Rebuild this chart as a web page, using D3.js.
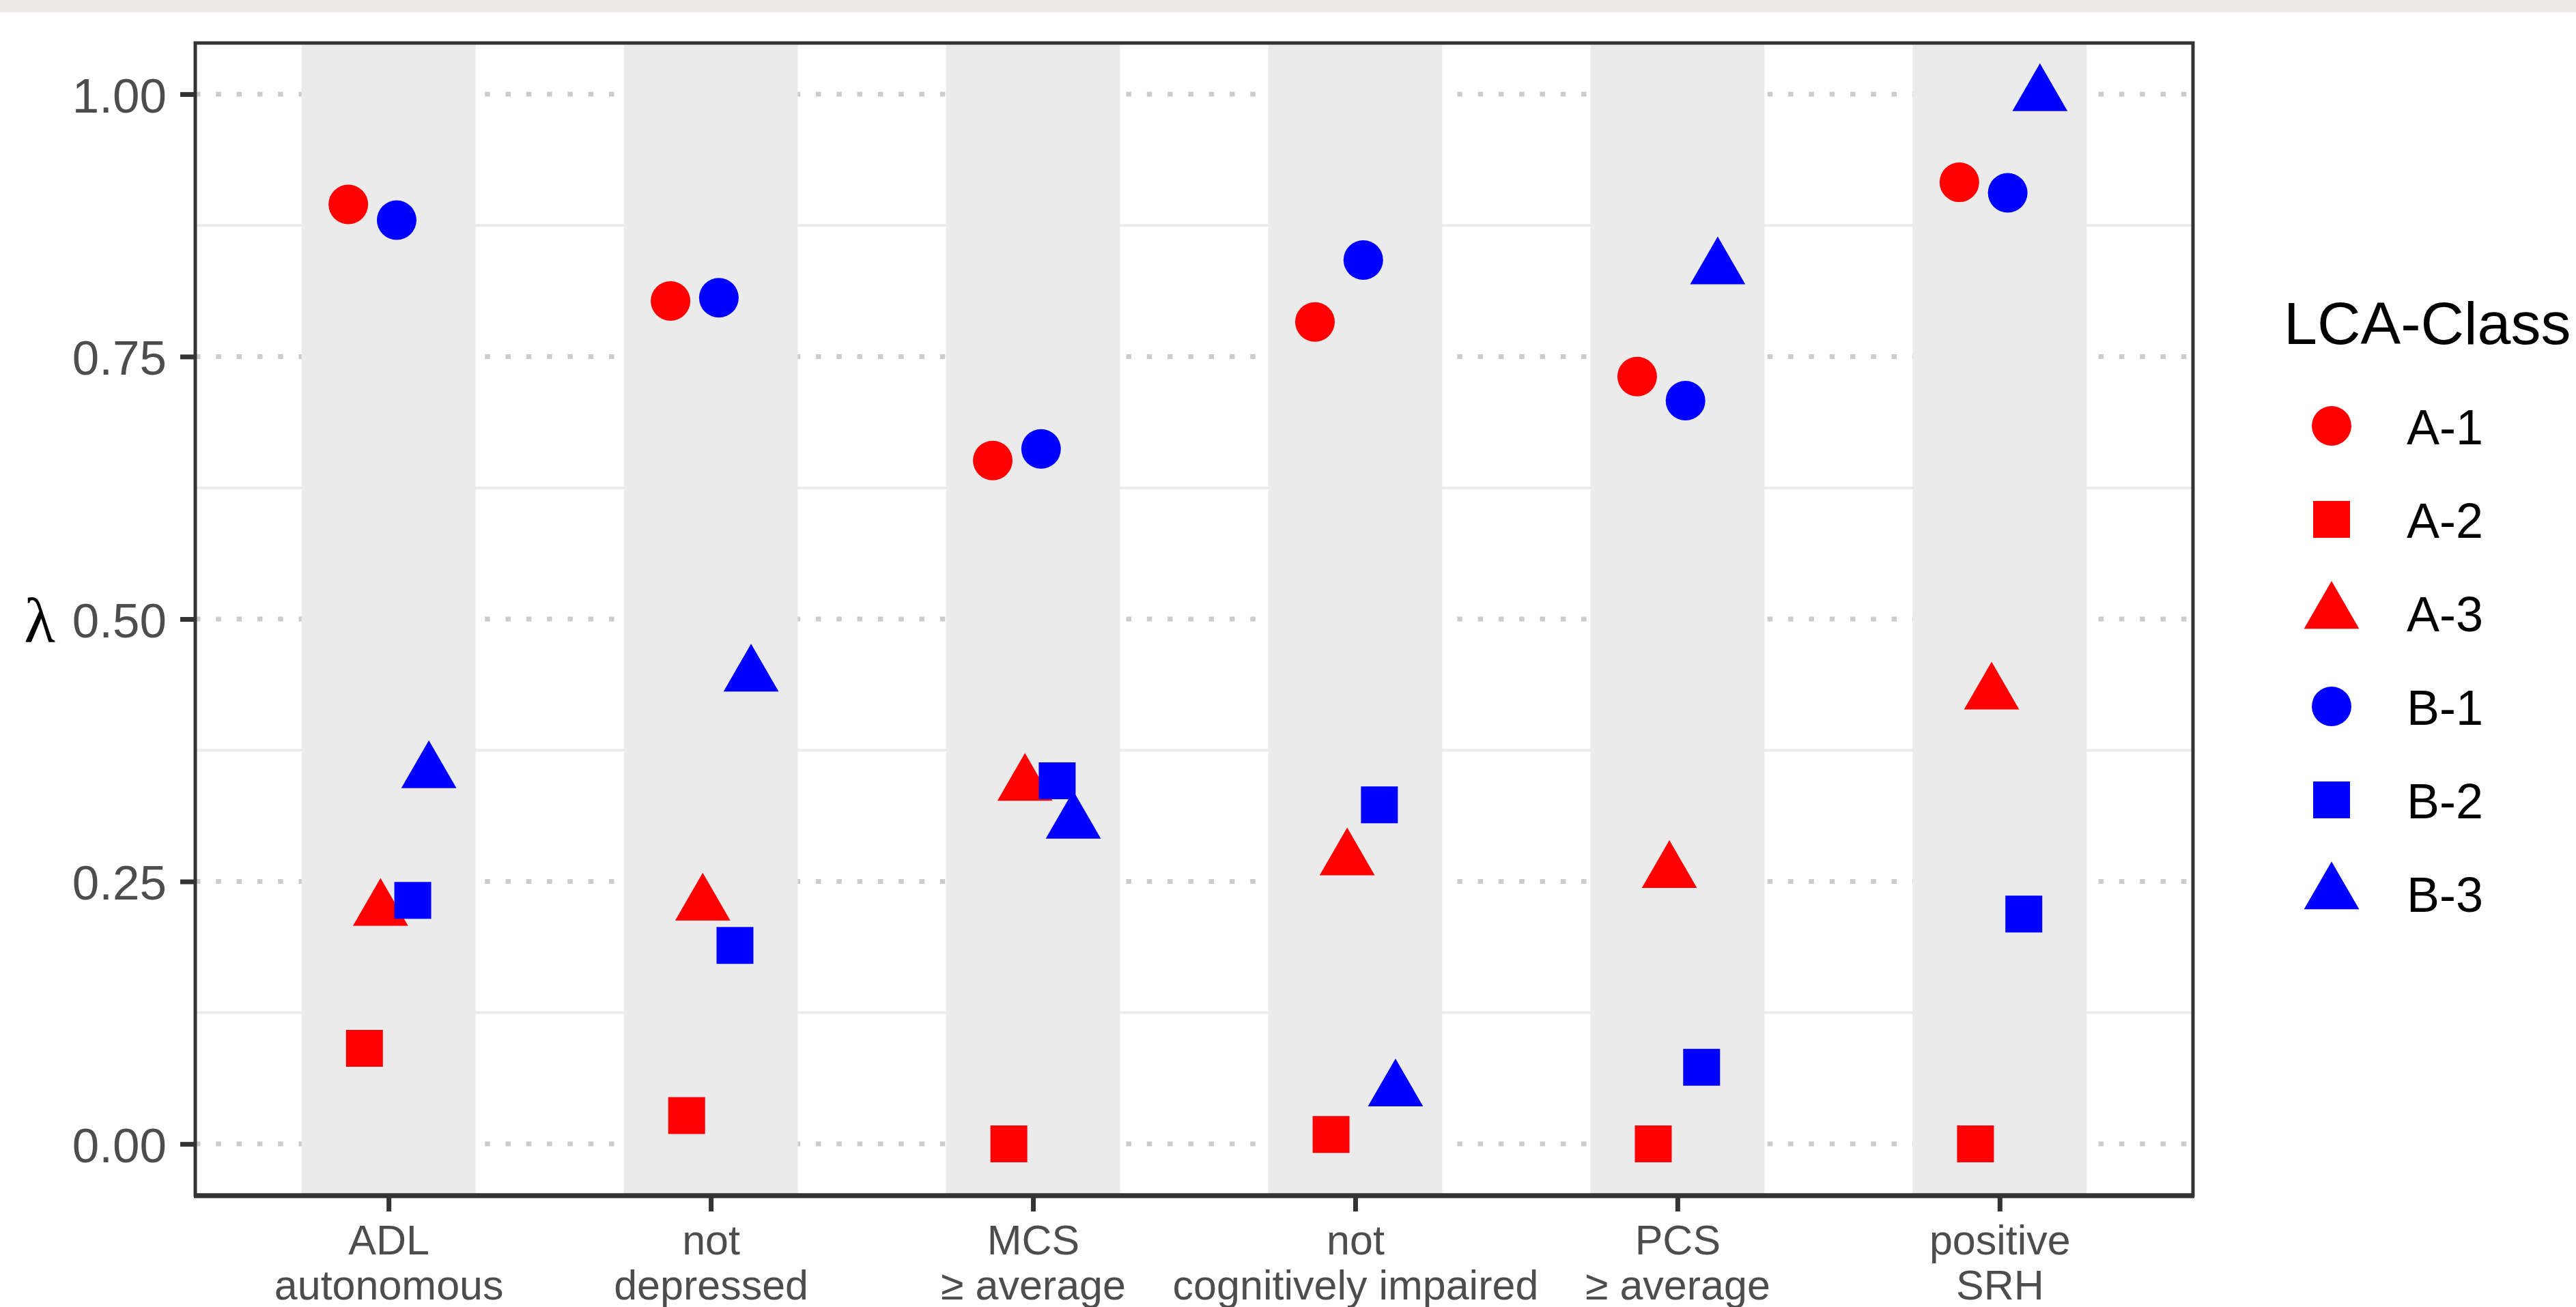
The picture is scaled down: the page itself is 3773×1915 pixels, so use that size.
<!DOCTYPE html>
<html>
<head>
<meta charset="utf-8">
<script src="https://cdn.jsdelivr.net/npm/d3@7"></script>
<style>
  body { margin: 0; background: #fff; }
  svg { display: block; }
</style>
</head>
<body>
<div id="chart"></div>
<script>
// Item-response probabilities per LCA class
const categories = ['ADL\nautonomous', 'not\ndepressed', 'MCS\n≥ average', 'not\ncognitively impaired', 'PCS\n≥ average', 'positive\nSRH'];
const classes = ['A-1', 'A-2', 'A-3', 'B-1', 'B-2', 'B-3'];
const classColors = ['#ff0000', '#ff0000', '#ff0000', '#0000ff', '#0000ff', '#0000ff'];
const classShapes = ['circle', 'square', 'triangle', 'circle', 'square', 'triangle'];

const valuesA1 = [0.895, 0.803, 0.651, 0.783, 0.731, 0.916];
const valuesA2 = [0.091, 0.027, 0.000, 0.009, 0.000, 0.000];
const valuesA3 = [0.223, 0.228, 0.342, 0.271, 0.259, 0.429];
const valuesB1 = [0.880, 0.806, 0.662, 0.842, 0.708, 0.906];
const valuesB2 = [0.232, 0.189, 0.346, 0.323, 0.073, 0.219];
const valuesB3 = [0.354, 0.446, 0.306, 0.051, 0.834, 0.999];
const seriesValues = [valuesA1, valuesA2, valuesA3, valuesB1, valuesB2, valuesB3];

const yTicks = [0, 0.25, 0.5, 0.75, 1];
const yMinorTicks = [0.125, 0.375, 0.625, 0.875];

const width = 3773;
const height = 1915;
const panel = { left: 286, right: 3212, top: 63, bottom: 1751 };
const axisColor = '#333333';
const textColor = '#4d4d4d';
const fontFamily = '"Liberation Sans", Arial, sans-serif';

const svg = d3.select('#chart')
  .append('svg')
  .attr('width', width)
  .attr('height', height)
  .style('background', '#fff');

// thin pink strip along the top edge
svg.append('rect')
  .attr('x', 0).attr('y', 0)
  .attr('width', width).attr('height', 18)
  .attr('fill', '#f1e8e9');

// Scales
const x = d3.scalePoint()
  .domain(categories)
  .range([panel.left, panel.right])
  .padding(0.6);

const y = d3.scaleLinear()
  .domain([-0.05, 1.05])
  .range([1753, 61]);

const step = x.step();
const dodge = k => step * 0.05 * (k - 2.5);

// Gridlines (drawn first, the shaded bands cover them)
const grid = svg.append('g');

grid.selectAll('line.minor')
  .data(yMinorTicks)
  .enter().append('line')
  .attr('class', 'minor')
  .attr('x1', panel.left).attr('x2', panel.right)
  .attr('y1', d => y(d)).attr('y2', d => y(d))
  .attr('stroke', '#ebebeb')
  .attr('stroke-width', 4);

grid.selectAll('line.major')
  .data(yTicks)
  .enter().append('line')
  .attr('class', 'major')
  .attr('x1', panel.left).attr('x2', panel.right)
  .attr('y1', d => y(d)).attr('y2', d => y(d))
  .attr('stroke', '#cccccc')
  .attr('stroke-width', 7)
  .attr('stroke-dasharray', '7.5,22.8');

// Shaded band behind every category
svg.append('g')
  .selectAll('rect')
  .data(categories)
  .enter().append('rect')
  .attr('x', d => x(d) - step * 0.27)
  .attr('width', step * 0.54)
  .attr('y', panel.top)
  .attr('height', panel.bottom - panel.top)
  .attr('fill', '#ebebeb');

// Marker shapes
function shapePath(shape) {
  if (shape === 'circle') {
    const r = 29;
    return `M${-r},0A${r},${r} 0 1,0 ${r},0A${r},${r} 0 1,0 ${-r},0Z`;
  }
  if (shape === 'square') {
    const h = 27;
    return `M${-h},${-h}H${h}V${h}H${-h}Z`;
  }
  // triangle centred on its centroid
  return 'M0,-46.7L40.4,23.3L-40.4,23.3Z';
}

// Points
const points = [];
classes.forEach((cls, k) => {
  seriesValues[k].forEach((v, i) => {
    points.push({ cls, k, category: categories[i], value: v });
  });
});

svg.append('g')
  .selectAll('path')
  .data(points)
  .enter().append('path')
  .attr('d', d => shapePath(classShapes[d.k]))
  .attr('fill', d => classColors[d.k])
  .attr('transform', d => `translate(${x(d.category) + dodge(d.k)},${y(d.value)})`);

// Panel border
svg.append('rect')
  .attr('x', panel.left).attr('y', panel.top)
  .attr('width', panel.right - panel.left)
  .attr('height', panel.bottom - panel.top)
  .attr('fill', 'none')
  .attr('stroke', axisColor)
  .attr('stroke-width', 5);

svg.append('line')
  .attr('x1', panel.left - 2).attr('x2', panel.right + 2)
  .attr('y1', panel.bottom + 1).attr('y2', panel.bottom + 1)
  .attr('stroke', axisColor)
  .attr('stroke-width', 7);

// Y axis
const yAxis = svg.append('g')
  .attr('transform', `translate(${panel.left},0)`)
  .call(d3.axisLeft(y).tickValues(yTicks).tickFormat(d3.format('.2f')).tickSize(22).tickPadding(20));

yAxis.select('.domain').remove();
yAxis.selectAll('.tick line').attr('stroke', axisColor).attr('stroke-width', 7);
yAxis.selectAll('.tick text')
  .attr('fill', textColor)
  .attr('font-family', fontFamily)
  .attr('font-size', 71)
  .attr('dy', '0.37em');

// X axis
const xAxis = svg.append('g')
  .attr('transform', `translate(0,${panel.bottom})`)
  .call(d3.axisBottom(x).tickSize(24).tickFormat(''));

xAxis.select('.domain').remove();
xAxis.selectAll('.tick line').attr('stroke', axisColor).attr('stroke-width', 7);

xAxis.selectAll('.tick')
  .append('text')
  .attr('fill', textColor)
  .attr('font-family', fontFamily)
  .attr('font-size', 61)
  .attr('text-anchor', 'middle')
  .each(function(d) {
    const lines = d.split('\n');
    d3.select(this).selectAll('tspan')
      .data(lines)
      .enter().append('tspan')
      .attr('x', 0)
      .attr('y', (l, i) => 87 + i * 66)
      .text(l => l);
  });

// Axis title (lambda)
svg.append('text')
  .attr('x', 58)
  .attr('y', 941)
  .attr('text-anchor', 'middle')
  .attr('font-family', '"Liberation Serif", "DejaVu Serif", serif')
  .attr('font-size', 94)
  .attr('fill', '#000')
  .text('λ');

// Legend
const legend = svg.append('g');

legend.append('text')
  .attr('x', 3345)
  .attr('y', 504)
  .attr('font-family', fontFamily)
  .attr('font-size', 88)
  .attr('fill', '#000')
  .text('LCA-Class');

const legendRow = legend.selectAll('g.row')
  .data(classes)
  .enter().append('g')
  .attr('class', 'row')
  .attr('transform', (d, i) => `translate(3415,${624 + i * 137})`);

legendRow.append('path')
  .attr('d', (d, i) => shapePath(classShapes[i]))
  .attr('fill', (d, i) => classColors[i]);

legendRow.append('text')
  .attr('x', 110)
  .attr('y', 27)
  .attr('font-family', fontFamily)
  .attr('font-size', 72)
  .attr('fill', '#000')
  .text(d => d);
</script>
</body>
</html>
